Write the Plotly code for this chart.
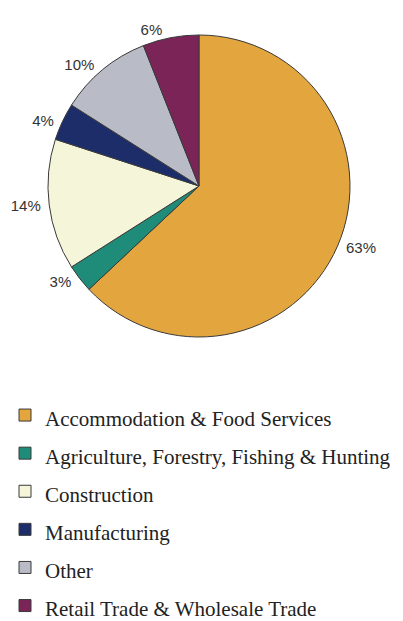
import plotly.graph_objects as go

labels = [
    "Accommodation & Food Services",
    "Agriculture, Forestry, Fishing & Hunting",
    "Construction",
    "Manufacturing",
    "Other",
    "Retail Trade & Wholesale Trade",
]
values = [63, 3, 14, 4, 10, 6]
colors = ["#E3A63E", "#1E8C78", "#F5F5DA", "#1C2D6A", "#B9BCC6", "#7A2458"]

W, H = 403, 621
# page body adds an 8px offset; positions below are in figure coordinates
cx, cy, r = 191, 178, 151

legend_labels = ["<span style='font-size:21px'>%s</span>" % l for l in labels]

fig = go.Figure(
    go.Pie(
        labels=legend_labels,
        values=values,
        sort=False,
        direction="clockwise",
        rotation=0,
        marker=dict(colors=colors, line=dict(color="#3a3a3a", width=1)),
        texttemplate="&nbsp;%{percent:.0%}&nbsp;",
        textposition="outside",
        textfont=dict(family="Liberation Sans, Arial, sans-serif", size=15, color="#333333"),
        domain=dict(x=[(cx - r) / W, (cx + r) / W], y=[1 - (cy + r) / H, 1 - (cy - r) / H]),
        hoverinfo="label+percent",
    )
)

fig.update_layout(
    width=W,
    height=H,
    margin=dict(l=0, r=0, t=0, b=0, autoexpand=False),
    paper_bgcolor="white",
    plot_bgcolor="white",
    showlegend=True,
    legend=dict(
        x=-3 / W,
        y=1 - 383 / H,
        xanchor="left",
        yanchor="top",
        font=dict(family="Liberation Serif, Times New Roman, serif", size=27, color="#222222"),
        bgcolor="rgba(0,0,0,0)",
        itemwidth=30,
        traceorder="normal",
    ),
)

fig.write_html("out.html")
